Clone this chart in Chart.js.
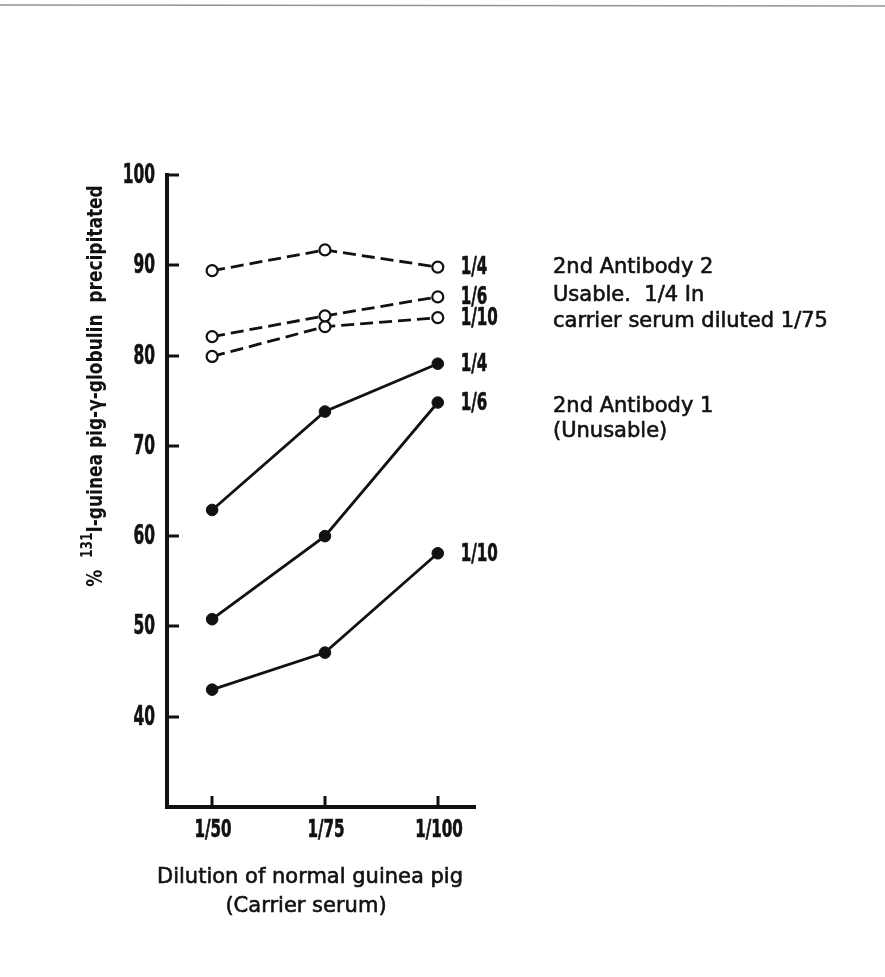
<!DOCTYPE html>
<html>
<head>
<meta charset="utf-8">
<script src="https://cdn.jsdelivr.net/npm/chart.js@4/dist/chart.umd.min.js"></script>
<style>
  html, body { margin: 0; padding: 0; background: #fff; }
  #wrap { position: relative; width: 885px; height: 977px; }
</style>
</head>
<body>
<div id="wrap"><canvas id="c" width="885" height="977"></canvas></div>
<script>
// Carrier serum dilutions (x categories)
const categories = ['1/50', '1/75', '1/100'];
const xIndex = [0, 1, 2];

// % 131I-guinea pig gamma-globulin precipitated
// 2nd Antibody 2 (open circles, dashed)
const ab2Quarter = [89.4, 91.7, 89.8];
const ab2Sixth   = [82.1, 84.4, 86.5];
const ab2Tenth   = [79.9, 83.2, 84.2];
// 2nd Antibody 1 (filled circles, solid)
const ab1Quarter = [62.9, 73.8, 79.1];
const ab1Sixth   = [50.8, 60.0, 74.8];
const ab1Tenth   = [43.0, 47.1, 58.1];

// Antibody dilution labels at the line ends
const seriesLabels = ['1/4', '1/6', '1/10', '1/4', '1/6', '1/10'];

// Y axis tick labels
const yTicks = [40, 50, 60, 70, 80, 90, 100];

// Side notes
const noteAb2 = ['2nd Antibody 2', 'Usable.  1/4 In', 'carrier serum diluted 1/75'];
const noteAb1 = ['2nd Antibody 1', '(Unusable)'];

const COND = "'DejaVu Sans Condensed', 'DejaVu Sans', sans-serif";
const PLAIN = "'DejaVu Sans', 'Liberation Sans', sans-serif";

function toPoints(vals) {
  return vals.map((v, i) => ({ x: xIndex[i], y: v }));
}

function openSeries(vals) {
  return {
    data: toPoints(vals),
    borderColor: '#111',
    borderWidth: 2.8,
    borderDash: [13, 6],
    pointRadius: 5.5,
    pointBorderWidth: 2.2,
    pointBackgroundColor: '#fff',
    pointBorderColor: '#111',
    tension: 0
  };
}
function filledSeries(vals) {
  return {
    data: toPoints(vals),
    borderColor: '#111',
    borderWidth: 2.8,
    pointRadius: 5.8,
    pointBorderWidth: 1,
    pointBackgroundColor: '#111',
    pointBorderColor: '#111',
    tension: 0
  };
}

const allSeries = [ab2Quarter, ab2Sixth, ab2Tenth, ab1Quarter, ab1Sixth, ab1Tenth];

// Text squeezed horizontally for a tall, narrow face
function narrowText(ctx, t, x, y, align, sx) {
  ctx.save();
  ctx.translate(x, y);
  ctx.scale(sx, 1);
  ctx.textAlign = align;
  ctx.lineWidth = 0.6;
  ctx.strokeText(t, 0, 0);
  ctx.fillText(t, 0, 0);
  ctx.restore();
}

// Filled text plus a hairline stroke so it reads a little heavier
function heavyText(ctx, t, x, y, w) {
  ctx.lineWidth = w;
  ctx.strokeText(t, x, y);
  ctx.fillText(t, x, y);
}

// Inward tick marks, tick labels, end labels, axis titles and side notes
const decorations = {
  id: 'decorations',
  afterDraw(chart) {
    const { ctx, chartArea, scales: { x, y } } = chart;
    ctx.save();

    // faint edge line along the top of the sheet
    ctx.strokeStyle = 'rgba(60,60,60,0.55)';
    ctx.lineWidth = 1.5;
    ctx.beginPath();
    ctx.moveTo(0, 5);
    ctx.lineTo(885, 6);
    ctx.stroke();

    ctx.strokeStyle = '#111';
    ctx.fillStyle = '#111';
    ctx.lineWidth = 3;
    ctx.lineCap = 'butt';
    ctx.textBaseline = 'middle';

    // y ticks pointing into the plot, with labels
    y.ticks.forEach(tk => {
      const py = Math.round(y.getPixelForValue(tk.value));
      ctx.lineWidth = 3;
      ctx.beginPath();
      ctx.moveTo(chartArea.left, py);
      ctx.lineTo(chartArea.left + 12, py);
      ctx.stroke();
      ctx.font = 'bold 26px ' + COND;
      narrowText(ctx, String(tk.value), 155, py + 1, 'right', 0.66);
    });
    // x ticks pointing up, with labels
    x.ticks.forEach(tk => {
      const px = Math.round(x.getPixelForValue(tk.value));
      ctx.lineWidth = 3;
      ctx.beginPath();
      ctx.moveTo(px, chartArea.bottom);
      ctx.lineTo(px, chartArea.bottom - 11);
      ctx.stroke();
      ctx.font = 'bold 24px ' + COND;
      narrowText(ctx, categories[tk.value], px + 1, 831, 'center', 0.7);
    });

    // end-of-line dilution labels
    ctx.font = 'bold 24px ' + COND;
    allSeries.forEach((vals, i) => {
      const last = vals.length - 1;
      const px = x.getPixelForValue(xIndex[last]) + 23;
      const py = y.getPixelForValue(vals[last]);
      narrowText(ctx, seriesLabels[i], px, py + 1, 'left', 0.7);
    });

    // side notes
    ctx.font = '21px ' + PLAIN;
    ctx.textAlign = 'left';
    const noteX = 553;
    [268, 296, 322].forEach((py, i) => heavyText(ctx, noteAb2[i], noteX, py, 0.6));
    [407, 432].forEach((py, i) => heavyText(ctx, noteAb1[i], noteX, py, 0.6));

    // x axis title
    ctx.textAlign = 'center';
    heavyText(ctx, 'Dilution of normal guinea pig', 310, 878, 0.6);
    heavyText(ctx, '(Carrier serum)', 306, 907, 0.6);

    // y axis title, rotated, with superscript mass number
    ctx.translate(97, 386);
    ctx.rotate(-Math.PI / 2);
    ctx.scale(0.9, 1);
    ctx.textAlign = 'left';
    const mainFont = 'bold 21px ' + COND;
    const supFont = 'bold 15px ' + COND;
    const parts = [
      { t: '%  ', f: mainFont, dy: 0 },
      { t: '131', f: supFont, dy: -9 },
      { t: 'I-guinea pig-\u03B3-globulin  precipitated', f: mainFont, dy: 0 }
    ];
    let total = 0;
    parts.forEach(p => { ctx.font = p.f; total += ctx.measureText(p.t).width; });
    let cx = -total / 2;
    parts.forEach(p => {
      ctx.font = p.f;
      ctx.fillText(p.t, cx, p.dy);
      cx += ctx.measureText(p.t).width;
    });
    ctx.restore();
  }
};

new Chart(document.getElementById('c'), {
  type: 'line',
  data: {
    datasets: [
      openSeries(ab2Quarter), openSeries(ab2Sixth), openSeries(ab2Tenth),
      filledSeries(ab1Quarter), filledSeries(ab1Sixth), filledSeries(ab1Tenth)
    ]
  },
  options: {
    responsive: false,
    animation: false,
    devicePixelRatio: 1,
    layout: { padding: { left: 0, right: 410, top: 175, bottom: 0 } },
    plugins: { legend: { display: false }, tooltip: { enabled: false } },
    scales: {
      x: {
        type: 'linear',
        min: -0.4,
        max: 2.33,
        afterBuildTicks(scale) { scale.ticks = xIndex.map(v => ({ value: v })); },
        afterFit(scale) { scale.height = 170; },
        grid: { display: true, drawOnChartArea: false, drawTicks: false },
        border: { display: true, width: 4, color: '#111' },
        ticks: { display: false }
      },
      y: {
        type: 'linear',
        min: 30,
        max: 100,
        afterBuildTicks(scale) { scale.ticks = yTicks.map(v => ({ value: v })); },
        afterFit(scale) { scale.width = 167; },
        grid: { display: true, drawOnChartArea: false, drawTicks: false },
        border: { display: true, width: 4, color: '#111' },
        ticks: { display: false }
      }
    }
  },
  plugins: [decorations]
});
</script>
</body>
</html>
